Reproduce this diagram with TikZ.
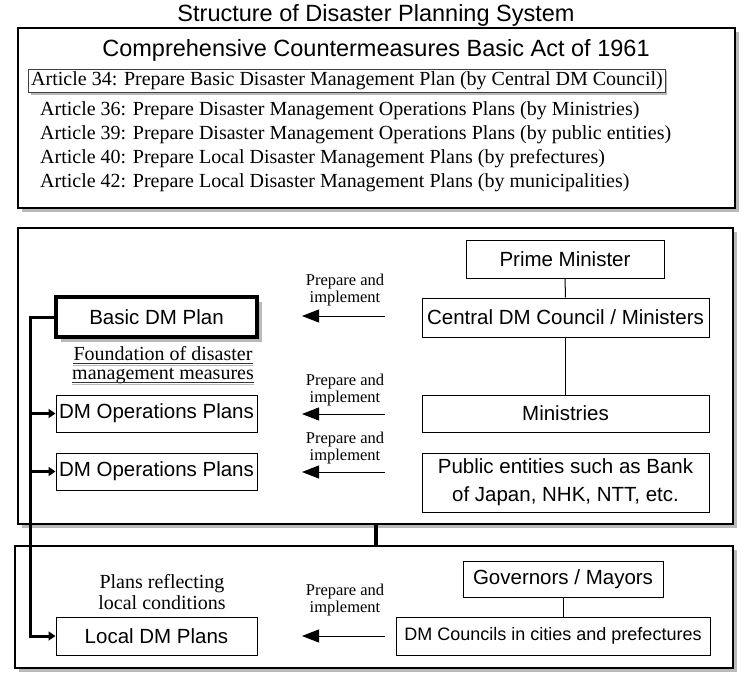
\documentclass[tikz,border=0pt]{standalone}
\usepackage{fontspec}
\setmainfont{Liberation Serif}
\setsansfont{Liberation Sans}
\usetikzlibrary{arrows.meta,positioning,shadows}
\definecolor{cShade}{RGB}{185,185,185}

\begin{document}
\begin{tikzpicture}[x=1pt,y=-1pt,
  panel/.style={draw,line width=1.2pt,fill=white,inner sep=0pt,
    drop shadow={shadow xshift=4pt,shadow yshift=-4pt,fill=cShade,opacity=1}},
  unit/.style={draw,line width=1pt,fill=white,inner sep=2pt,align=center,
    font=\sffamily\fontsize{20.5}{28}\selectfont},
  head/.style={inner sep=0pt,font=\sffamily\fontsize{23.5}{26}\selectfont},
  note/.style={inner sep=0pt,align=center,font=\fontsize{20}{21}\selectfont},
  small/.style={inner sep=0pt,align=center,font=\fontsize{16.5}{17}\selectfont},
  feed/.style={line width=1pt,-{Triangle[length=17pt,width=13pt]}},
  bus/.style={line width=3pt},
  tap/.style={line width=3pt,-{Triangle[length=7pt,width=9pt]}}]
  \useasboundingbox (0,0) rectangle (750,677);

  % title and the act
  \node[head] (title) at (376,15) {Structure of Disaster Planning System};
  \node[panel,minimum width=717pt,minimum height=180pt] (actpanel) at (376.5,118) {};
  \node[head] (act) at (376,50) {Comprehensive Countermeasures Basic Act of 1961};
  \node[note,draw=black!75,line width=1pt,inner sep=2.5pt,fill=white,
    drop shadow={shadow xshift=2pt,shadow yshift=-2pt,fill=cShade,opacity=1}] (art34) at (347,81)
    {Article 34: Prepare Basic Disaster Management Plan (by Central DM Council)};
  \node[note,anchor=west] (art36) at (40,111) {Article 36: Prepare Disaster Management Operations Plans (by Ministries)};
  \node[note,anchor=west] (art39) at (40,135) {Article 39: Prepare Disaster Management Operations Plans (by public entities)};
  \node[note,anchor=west] (art40) at (40,159) {Article 40: Prepare Local Disaster Management Plans (by prefectures)};
  \node[note,anchor=west] (art42) at (40,183) {Article 42: Prepare Local Disaster Management Plans (by municipalities)};

  % national level
  \node[panel,minimum width=715pt,minimum height=296pt] (natpanel) at (375.5,376) {};
  \node[unit,minimum width=198pt,minimum height=38pt] (pm) at (565,259) {Prime Minister};
  \node[unit,minimum width=287pt,minimum height=39pt] (council) at (565.5,317.5) {Central DM Council / Ministers};
  \node[unit,minimum width=287pt,minimum height=37pt] (min) at (565.5,413.5) {Ministries};
  \node[unit,minimum width=287pt,minimum height=59pt] (pub) at (565.5,482.5) {Public entities such as Bank\\of Japan, NHK, NTT, etc.};
  \node[unit,line width=4pt,minimum width=201pt,minimum height=40pt,
    drop shadow={shadow xshift=5pt,shadow yshift=-5pt,fill=cShade,opacity=1}] (basic) at (156.5,317) {Basic DM Plan};
  \node[note] (found1) at (163,354) {Foundation of disaster};
  \node[note,below=7pt of found1] (found2) {management measures};
  \node[unit,minimum width=201pt,minimum height=37pt] (ops1) at (156.5,413.5) {DM Operations Plans};
  \node[unit,minimum width=201pt,minimum height=37pt] (ops2) at (156.5,471.5) {DM Operations Plans};

  % local level
  \node[panel,minimum width=718pt,minimum height=122pt] (locpanel) at (374,607) {};
  \node[unit,minimum width=200pt,minimum height=36pt] (gov) at (563,579) {Governors / Mayors};
  \node[unit,minimum width=314pt,minimum height=38pt,font=\sffamily\fontsize{18}{20}\selectfont] (dmc) at (553,636) {DM Councils in cities and prefectures};
  \node[unit,minimum width=201pt,minimum height=38pt] (local) at (156.5,636) {Local DM Plans};
  \node[note] (reflect) at (162,592) {Plans reflecting\\local conditions};

  % underlines
  \foreach \f in {found1,found2} {
    \draw[cShade,line width=1.6pt] ([yshift=-4.5pt]\f.base west) -- ([yshift=-4.5pt]\f.base east);
    \draw[black!80,line width=0.8pt] ([yshift=-2.5pt]\f.base west) -- ([yshift=-2.5pt]\f.base east);
  }

  % prepare and implement
  \foreach \y/\t/\n in {316/290/1,414/390/2,472/448/3,636/600/4} {
    \coordinate (src\n) at (385,\y);
    \coordinate (dst\n) at (302,\y);
    \node[small] (prep\n) at (345,\t) {Prepare and\\implement};
    \draw[feed] (src\n) -- (dst\n);
  }

  % links
  \draw[line width=1pt] (pm) -- (council);
  \draw[line width=1pt] (council) -- (min);
  \draw[line width=1pt] (gov.south) -- (gov.south |- dmc.north);
  \draw[line width=4pt] (natpanel.south) -- (natpanel.south |- locpanel.north);
  \coordinate (busTop) at (30,317);
  \draw[tap] (basic.west) -- (busTop) |- (local.west);
  \draw[tap] (busTop |- ops1.west) -- (ops1.west);
  \draw[tap] (busTop |- ops2.west) -- (ops2.west);
\end{tikzpicture}
\end{document}
